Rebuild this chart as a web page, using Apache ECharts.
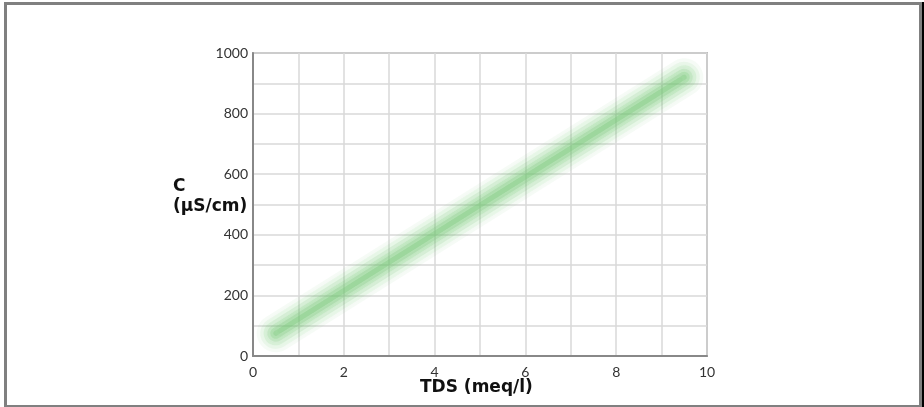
<!DOCTYPE html>
<html><head><meta charset="utf-8">
<script src="https://cdn.jsdelivr.net/npm/echarts@6/dist/echarts.min.js"></script>
<style>
html,body{margin:0;padding:0;background:#fff;}
#frame{position:absolute;left:4px;top:2px;width:912px;height:400px;border:3px solid #808080;box-shadow:2px 0 0 #000;}
#c{position:absolute;left:0;top:0;width:924px;height:407px;}
</style></head>
<body>
<div id="frame"></div>
<div id="c"></div>
<script>
var xTicks = [0, 2, 4, 6, 8, 10];
var yTicks = [0, 200, 400, 600, 800, 1000];
var tdsValues = [0.5, 9.5];
var condValues = [75, 920];
var xTitle = 'TDS (meq/l)';
var yTitle = 'C\n(µS/cm)';

var font = 'Lato, "DejaVu Sans", sans-serif';
var titleFont = '"DejaVu Sans", sans-serif';
var lineData = tdsValues.map(function (v, i) { return [v, condValues[i]]; });
var layers = [
  {w: 38, o: 0.06, b: 20},
  {w: 31, o: 0.09, b: 18},
  {w: 24, o: 0.13, b: 15},
  {w: 17, o: 0.17, b: 12},
  {w: 11, o: 0.21, b: 10},
  {w: 5, o: 0.24, b: 8}
];
var series = layers.map(function (l) {
  return {
    type: 'line', data: lineData, symbol: 'none', silent: true, animation: false,
    lineStyle: {width: l.w, color: 'rgba(110,195,110,' + l.o + ')', cap: 'round',
      shadowBlur: l.b, shadowColor: 'rgba(110,195,110,' + (l.o * 0.9) + ')'}
  };
});

var chart = echarts.init(document.getElementById('c'), null, {renderer: 'canvas'});
chart.setOption({
  animation: false,
  grid: {left: 253, right: 217, top: 53, bottom: 51, show: true, borderColor: '#8a8a8a', borderWidth: 1.5, backgroundColor: 'transparent'},
  xAxis: {
    type: 'value', min: 0, max: 10, interval: 1,
    axisLine: {show: true, lineStyle: {color: '#888', width: 2}},
    axisTick: {show: false},
    splitLine: {show: true, lineStyle: {color: '#d8d8d8', width: 1.5}},
    axisLabel: {
      margin: 9, color: '#333', fontSize: 14, fontFamily: font,
      formatter: function (v) { return xTicks.indexOf(v) >= 0 ? String(v) : ''; }
    }
  },
  yAxis: {
    type: 'value', min: 0, max: 1000, interval: 100,
    axisLine: {show: true, lineStyle: {color: '#888', width: 2}},
    axisTick: {show: false},
    splitLine: {show: true, lineStyle: {color: '#d8d8d8', width: 1.5}},
    axisLabel: {
      margin: 5, color: '#333', fontSize: 14, fontFamily: font,
      formatter: function (v) { return yTicks.indexOf(v) >= 0 ? String(v) : ''; }
    }
  },
  graphic: [
    {type: 'text', left: 173, top: 177, style: {text: yTitle, font: 'bold 17px ' + titleFont, fill: '#111', lineHeight: 20}},
    {type: 'text', left: 420, top: 379, style: {text: xTitle, font: 'bold 17px ' + titleFont, fill: '#111'}}
  ],
  series: series
});
</script>
</body></html>
